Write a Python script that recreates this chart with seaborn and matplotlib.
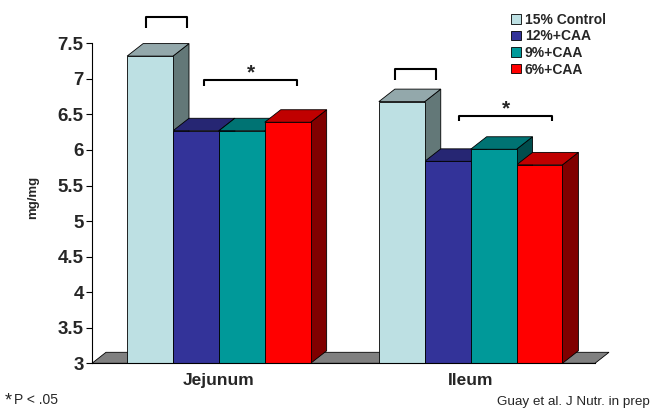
import matplotlib
matplotlib.use("Agg")
import matplotlib.pyplot as plt
from matplotlib.patches import Polygon, Patch
import seaborn as sns
import pandas as pd

# Tissue weight per diet group
regions = ["Jejunum", "Ileum"]
diets = ["15% Control", "12%+CAA", "9%+CAA", "6%+CAA"]
jejunum = [7.32, 6.27, 6.27, 6.39]
ileum = [6.68, 5.84, 6.01, 5.79]
yticks = [3, 3.5, 4, 4.5, 5, 5.5, 6, 6.5, 7, 7.5]

front_colors = ["#BDE0E3", "#333399", "#009999", "#FF0000"]
top_colors = ["#93A8AB", "#262673", "#007373", "#C00000"]
side_colors = ["#637878", "#1A1A4D", "#004D4D", "#800000"]

df = pd.DataFrame({
    "region": [r for r in regions for _ in diets],
    "diet": diets * len(regions),
    "value": jejunum + ileum,
})

sns.set_style("white")
plt.rcParams["font.family"] = ["Liberation Sans", "DejaVu Sans"]

W, H = 651, 411
fig = plt.figure(figsize=(W / 100, H / 100), dpi=100)
ax = fig.add_axes([92 / W, 1 - 363.3 / H, 503 / W, 320 / H])

sns.barplot(data=df, x="region", y="value", hue="diet", order=regions,
            hue_order=diets, palette=front_colors, width=0.729,
            edgecolor="black", linewidth=0.6, saturation=1,
            legend=False, ax=ax)

ax.set_xlim(-0.504, 1.494)
ax.set_ylim(3, 7.5)

# depth of the 3-D extrusion, converted from pixels to data units
px_x = 503 / (1.494 + 0.504)
px_y = 320 / 4.5
dx, dy = 16 / px_x, 12.5 / px_y
fdx, fdy = 14 / px_x, 11 / px_y
base = 3.0

# floor
x0, x1 = ax.get_xlim()
ax.add_patch(Polygon([(x0, base), (x0 + fdx, base + fdy), (x1 + fdx, base + fdy), (x1, base)],
                     closed=True, facecolor="#808080", edgecolor="black",
                     linewidth=0.6, zorder=0.5, clip_on=False))

# top and side faces, drawn left to right
faces = []
for i, cont in enumerate(ax.containers):
    for bar in cont:
        bar.set_zorder(2)
        faces.append((bar.get_x(), bar.get_width(), bar.get_height(), i))
faces.sort()
for x, w, h, i in faces:
    r = x + w
    ax.add_patch(Polygon([(r, base), (r + dx, base + dy), (r + dx, h + dy), (r, h)],
                         closed=True, facecolor=side_colors[i], edgecolor="black",
                         linewidth=0.6, zorder=1, clip_on=False))
    ax.add_patch(Polygon([(x, h), (x + dx, h + dy), (r + dx, h + dy), (r, h)],
                         closed=True, facecolor=top_colors[i], edgecolor="black",
                         linewidth=0.6, zorder=1, clip_on=False))

# axes styling
for s in ["top", "right"]:
    ax.spines[s].set_visible(False)
ax.spines["left"].set_color("black")
ax.spines["left"].set_linewidth(0.8)
ax.spines["bottom"].set_color("black")
ax.spines["bottom"].set_linewidth(0.8)
ax.spines["bottom"].set_zorder(5)
ax.set_yticks(yticks)
ax.set_yticklabels([f"{t:g}" for t in yticks], fontsize=13.5, fontweight="bold")
ax.tick_params(axis="y", direction="out", length=4, width=0.8, color="black", pad=2, left=True)
ax.set_xticks(range(len(regions)))
ax.set_xticklabels(regions, fontsize=12.5, fontweight="bold")
ax.tick_params(axis="x", length=0, pad=7)
ax.set_xlabel("")
ax.set_ylabel("")
fig.text(33 / W, 1 - 197 / H, "mg/mg", rotation=90, ha="center", va="center",
         fontsize=9.5, fontweight="bold")

# significance brackets
brackets = [
    (-0.289, -0.127, 7.875, 7.712, None),
    (-0.061, 0.312, 6.985, 6.90, "*"),
    (0.699, 0.863, 7.139, 6.985, None),
    (0.955, 1.325, 6.482, 6.412, "*"),
]
for xa, xb, ytop, yleg, mark in brackets:
    ax.plot([xa, xa, xb, xb], [yleg, ytop, ytop, yleg], color="black",
            linewidth=1.5, clip_on=False, zorder=6, solid_capstyle="butt")
    if mark:
        ax.text((xa + xb) / 2, ytop + 0.02, mark, ha="center", va="baseline",
                fontsize=15, fontweight="bold", zorder=6)

# legend
handles = [Patch(facecolor=c, edgecolor="black", linewidth=0.6) for c in front_colors]
leg = fig.legend(handles, diets, loc="upper left", bbox_to_anchor=(511 / W, 1 - 13 / H),
                 frameon=False, prop={"size": 10, "weight": "bold"},
                 handlelength=0.7, handleheight=0.7, handletextpad=0.3,
                 labelspacing=0.18, borderpad=0, borderaxespad=0)

fig.text(5 / W, 1 - 401 / H, "*", ha="left", va="center", fontsize=13)
fig.text(14 / W, 1 - 400 / H, "P < .05", ha="left", va="center", fontsize=10)
fig.text(650 / W, 1 - 402 / H, "Guay et al. J Nutr. in prep", ha="right", va="center", fontsize=9.7)

fig.savefig("out.png", dpi=100, facecolor="white")
